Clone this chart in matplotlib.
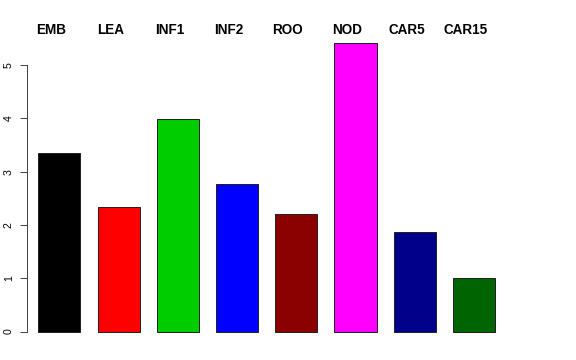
import matplotlib
matplotlib.use("Agg")
import matplotlib.pyplot as plt

categories = ["EMB", "LEA", "INF1", "INF2", "ROO", "NOD", "CAR5", "CAR15"]
values = [3.36, 2.33, 3.99, 2.77, 2.20, 5.41, 1.87, 1.00]
colors = ["#000000", "#FF0000", "#00CD00", "#0000FF", "#8B0000", "#FF00FF", "#00008B", "#006400"]
yticks = [0, 1, 2, 3, 4, 5]

W, H = 576, 360
fig = plt.figure(figsize=(W / 72, H / 72), dpi=72)

# pixel geometry
px_per_unit = 53.3
y0_px = 331.6
ymin, ymax = -0.2164, 5.6264
bottom_px = y0_px - ymin * px_per_unit   # from top
top_px = y0_px - ymax * px_per_unit
pitch = 59.24
c0 = 59.3
left_px, right_px = 27.0, 556.0
xmin = (left_px - c0) / pitch
xmax = (right_px - c0) / pitch

ax = fig.add_axes([left_px / W, (H - bottom_px) / H,
                   (right_px - left_px) / W, (bottom_px - top_px) / H])
x = list(range(len(categories)))
ax.bar(x, values, width=0.709, color=colors, edgecolor="#222222", linewidth=1.0)
ax.set_xlim(xmin, xmax)
ax.set_ylim(ymin, ymax)

for s in ["top", "right", "bottom"]:
    ax.spines[s].set_visible(False)
ax.spines["left"].set_bounds(0, 5)
ax.spines["left"].set_color("#444444")
ax.spines["left"].set_linewidth(1.0)
ax.set_xticks([])
ax.set_yticks(yticks)
ax.set_yticklabels([str(t) for t in yticks], rotation=90, va="center",
                   fontsize=10.5, family="Liberation Sans")
ax.tick_params(axis="y", length=7, width=1.0, color="#444444", pad=6)

label_y = (y0_px - 30) / px_per_unit
for i, c in enumerate(categories):
    ax.text(i - 0.14, label_y, c, ha="center", va="center", fontsize=13.5,
            fontweight="bold", family="Liberation Sans", clip_on=False)

fig.savefig("out.png", dpi=72)
